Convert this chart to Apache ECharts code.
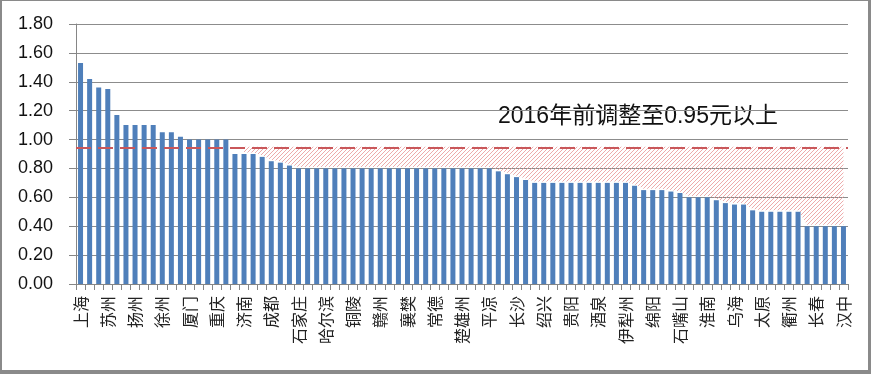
<!DOCTYPE html>
<html>
<head>
<meta charset="utf-8">
<script src="https://cdn.jsdelivr.net/npm/echarts@6/dist/echarts.min.js"></script>
<style>
html,body{margin:0;padding:0;background:#fff;}
#wrap{position:relative;width:871px;height:374px;}
#chart{position:absolute;left:0;top:0;width:871px;height:374px;}
#frame{position:absolute;left:0;top:0;width:871px;height:374px;box-sizing:border-box;
border-left:2px solid #8a8a8a;border-top:1px solid #8a8a8a;border-right:3px solid #8a8a8a;border-bottom:4px solid #8a8a8a;pointer-events:none;}
</style>
</head>
<body>
<div id="wrap"><div id="chart"></div><div id="frame"></div></div>
<script>
// labelled cities (every third bar)
const labelNames = ['上海','苏州','扬州','徐州','厦门','重庆','济南','成都','石家庄','哈尔滨',
  '铜陵','赣州','襄樊','常德','楚雄州','平凉','长沙','绍兴','贵阳','酒泉',
  '伊犁州','绵阳','石嘴山','淮南','乌海','太原','衢州','长春','汉中'];
const labelStep = 3;
// price values for all 85 cities, left to right
const values = [
  1.53,1.42,1.36,1.35,1.17,1.10,1.10,1.10,1.10,1.05,
  1.05,1.02,1.00,1.00,1.00,1.00,1.00,0.90,0.90,0.90,
  0.88,0.85,0.84,0.82,0.80,0.80,0.80,0.80,0.80,0.80,
  0.80,0.80,0.80,0.80,0.80,0.80,0.80,0.80,0.80,0.80,
  0.80,0.80,0.80,0.80,0.80,0.80,0.78,0.76,0.74,0.72,
  0.70,0.70,0.70,0.70,0.70,0.70,0.70,0.70,0.70,0.70,
  0.70,0.68,0.65,0.65,0.65,0.64,0.63,0.60,0.60,0.60,
  0.58,0.56,0.55,0.55,0.51,0.50,0.50,0.50,0.50,0.50,
  0.40,0.40,0.40,0.40,0.40
];
const yTicks = [0,0.2,0.4,0.6,0.8,1.0,1.2,1.4,1.6,1.8];
const target = 0.95;
const hatchStart = 18;
const noteText = '2016年前调整至0.95元以上';

const categories = values.map((v, i) => (i % labelStep === 0 ? labelNames[i / labelStep] : ''));
const hatchBase = values.map((v, i) => (i >= hatchStart ? v + 0.01 : null));
const hatchFill = values.map((v, i) => (i >= hatchStart ? +(target - v - 0.01).toFixed(3) : null));

// hatch pattern
const pc = document.createElement('canvas');
pc.width = 4; pc.height = 4;
const pctx = pc.getContext('2d');
pctx.strokeStyle = 'rgb(232,150,150)';
pctx.lineWidth = 0.8;
pctx.beginPath();
pctx.moveTo(0, 4); pctx.lineTo(4, 0);
pctx.moveTo(-1, 1); pctx.lineTo(1, -1);
pctx.moveTo(3, 5); pctx.lineTo(5, 3);
pctx.stroke();

const chart = echarts.init(document.getElementById('chart'), null, {renderer: 'canvas'});
const fontNum = 'Liberation Sans, Arial, sans-serif';
chart.setOption({
  animation: false,
  grid: {left: 76, right: 23, top: 24, bottom: 90, containLabel: false},
  xAxis: {
    type: 'category',
    data: categories,
    axisLine: {lineStyle: {color: '#868686', width: 1}},
    axisTick: {show: true, length: 6, lineStyle: {color: '#868686'}, interval: 0},
    axisLabel: {interval: 0, rotate: 90, margin: 12, color: '#222',
      fontSize: 16, fontFamily: 'Noto Sans CJK SC'},
    splitLine: {show: false}
  },
  yAxis: {
    type: 'value',
    min: yTicks[0], max: yTicks[yTicks.length - 1], interval: 0.2,
    axisLine: {show: true, lineStyle: {color: '#868686'}},
    axisTick: {show: true, length: 7, lineStyle: {color: '#868686'}},
    axisLabel: {margin: 23, color: '#111', fontSize: 18, fontFamily: fontNum,
      formatter: v => v.toFixed(2)},
    splitLine: {show: true, lineStyle: {color: '#8c8c8c', width: 1}}
  },
  graphic: [{
    type: 'text', left: 498, top: 105,
    style: {text: noteText, fontSize: 23, fill: '#111', fontFamily: 'Liberation Sans, Noto Sans CJK SC'}
  }],
  series: [
    {
      type: 'line', stack: 'hatch', data: hatchBase, symbol: 'none',
      lineStyle: {opacity: 0}, silent: true, z: 1
    },
    {
      type: 'line', stack: 'hatch', data: hatchFill, symbol: 'none',
      lineStyle: {opacity: 0}, silent: true, z: 1,
      areaStyle: {color: {image: pc, repeat: 'repeat'}, opacity: 1}
    },
    {
      type: 'bar', data: values, barWidth: 5, z: 3,
      itemStyle: {color: '#4f7fba'},
      markLine: {
        silent: true, symbol: 'none', label: {show: false},
        lineStyle: {color: '#c9575a', type: [15, 7], width: 2.2},
        data: [{yAxis: 0.945}]
      }
    }
  ]
});
</script>
</body>
</html>
